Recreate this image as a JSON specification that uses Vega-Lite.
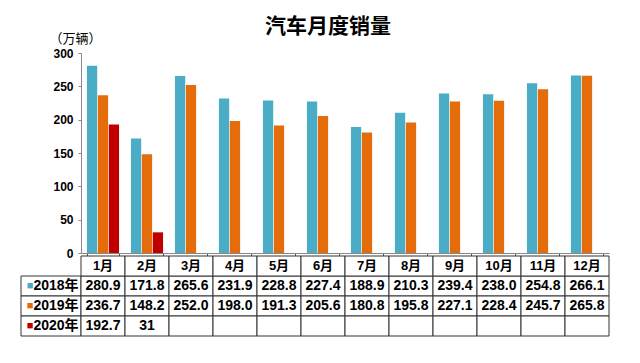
{
  "$schema": "https://vega.github.io/schema/vega-lite/v6.json",
  "background": "white",
  "padding": {"left": 20, "top": 16, "right": 5, "bottom": 5},
  "config": {
    "font": "Liberation Sans, Noto Sans CJK SC",
    "view": {"stroke": null},
    "text": {"color": "#000"}
  },
  "title": {"text": "汽车月度销量", "fontSize": 21, "fontWeight": "bold", "anchor": "middle", "dx": 13, "offset": -5, "color": "#000"},
  "datasets": {
    "sales": [
      {"month": "1月", "series": "2018年", "value": 280.9, "label": "280.9"},
      {"month": "2月", "series": "2018年", "value": 171.8, "label": "171.8"},
      {"month": "3月", "series": "2018年", "value": 265.6, "label": "265.6"},
      {"month": "4月", "series": "2018年", "value": 231.9, "label": "231.9"},
      {"month": "5月", "series": "2018年", "value": 228.8, "label": "228.8"},
      {"month": "6月", "series": "2018年", "value": 227.4, "label": "227.4"},
      {"month": "7月", "series": "2018年", "value": 188.9, "label": "188.9"},
      {"month": "8月", "series": "2018年", "value": 210.3, "label": "210.3"},
      {"month": "9月", "series": "2018年", "value": 239.4, "label": "239.4"},
      {"month": "10月", "series": "2018年", "value": 238.0, "label": "238.0"},
      {"month": "11月", "series": "2018年", "value": 254.8, "label": "254.8"},
      {"month": "12月", "series": "2018年", "value": 266.1, "label": "266.1"},
      {"month": "1月", "series": "2019年", "value": 236.7, "label": "236.7"},
      {"month": "2月", "series": "2019年", "value": 148.2, "label": "148.2"},
      {"month": "3月", "series": "2019年", "value": 252.0, "label": "252.0"},
      {"month": "4月", "series": "2019年", "value": 198.0, "label": "198.0"},
      {"month": "5月", "series": "2019年", "value": 191.3, "label": "191.3"},
      {"month": "6月", "series": "2019年", "value": 205.6, "label": "205.6"},
      {"month": "7月", "series": "2019年", "value": 180.8, "label": "180.8"},
      {"month": "8月", "series": "2019年", "value": 195.8, "label": "195.8"},
      {"month": "9月", "series": "2019年", "value": 227.1, "label": "227.1"},
      {"month": "10月", "series": "2019年", "value": 228.4, "label": "228.4"},
      {"month": "11月", "series": "2019年", "value": 245.7, "label": "245.7"},
      {"month": "12月", "series": "2019年", "value": 265.8, "label": "265.8"},
      {"month": "1月", "series": "2020年", "value": 192.7, "label": "192.7"},
      {"month": "2月", "series": "2020年", "value": 31, "label": "31"},
      {"month": "3月", "series": "2020年", "value": null, "label": ""},
      {"month": "4月", "series": "2020年", "value": null, "label": ""},
      {"month": "5月", "series": "2020年", "value": null, "label": ""},
      {"month": "6月", "series": "2020年", "value": null, "label": ""},
      {"month": "7月", "series": "2020年", "value": null, "label": ""},
      {"month": "8月", "series": "2020年", "value": null, "label": ""},
      {"month": "9月", "series": "2020年", "value": null, "label": ""},
      {"month": "10月", "series": "2020年", "value": null, "label": ""},
      {"month": "11月", "series": "2020年", "value": null, "label": ""},
      {"month": "12月", "series": "2020年", "value": null, "label": ""}
    ]
  },
  "columns": 2,
  "bounds": "flush",
  "spacing": {"row": 3, "column": 0},
  "resolve": {"scale": {"x": "independent", "y": "independent"}, "axis": {"x": "independent", "y": "independent"}},
  "concat": [
    {
      "width": 60,
      "height": 200,
      "data": {"values": [{}]},
      "mark": {"type": "text"},
      "encoding": {"text": {"value": ""}}
    },
    {
      "width": 528,
      "height": 200,
      "data": {"name": "sales"},
      "mark": {"type": "bar"},
      "encoding": {
        "x": {
          "field": "month", "type": "nominal",
          "sort": ["1月", "2月", "3月", "4月", "5月", "6月", "7月", "8月", "9月", "10月", "11月", "12月"],
          "scale": {"paddingInner": 0.27, "paddingOuter": 0.135},
          "axis": {"labels": false, "title": null, "tickBand": "extent", "tickSize": 4, "domainColor": "#888", "tickColor": "#555"}
        },
        "xOffset": {
          "field": "series", "type": "nominal",
          "sort": ["2018年", "2019年", "2020年"],
          "scale": {"paddingInner": 0.06}
        },
        "y": {
          "field": "value", "type": "quantitative",
          "scale": {"domain": [0, 300]},
          "axis": {
            "values": [0, 50, 100, 150, 200, 250, 300],
            "grid": false,
            "labelFontWeight": "bold", "labelFontSize": 12, "labelColor": "#000",
            "tickSize": 3, "labelPadding": 5, "domainColor": "#888", "tickColor": "#888",
            "title": "（万辆）", "titleAngle": 0, "titleFontWeight": "normal", "titleFontSize": 13,
            "titleAlign": "left", "titleBaseline": "bottom", "titleX": -32, "titleY": -8, "titleColor": "#000"
          }
        },
        "color": {
          "field": "series", "type": "nominal",
          "scale": {"domain": ["2018年", "2019年", "2020年"], "range": ["#4BACC6", "#E46C0A", "#C00000"]},
          "legend": null
        }
      }
    },
    {
      "width": 60,
      "height": 80,
      "data": {"name": "sales"},
      "transform": [{"filter": "datum.month === '1月'"}],
      "encoding": {
        "y": {
          "field": "series", "type": "nominal",
          "scale": {"domain": ["h", "2018年", "2019年", "2020年"], "paddingInner": 0, "paddingOuter": 0},
          "axis": null
        }
      },
      "layer": [
        {"mark": {"type": "rect", "fill": "white", "stroke": "#333", "strokeWidth": 1}},
        {
          "mark": {"type": "text", "text": "■", "dx": -21, "fontSize": 11},
          "encoding": {
            "color": {
              "field": "series", "type": "nominal",
              "scale": {"domain": ["2018年", "2019年", "2020年"], "range": ["#4BACC6", "#E46C0A", "#C00000"]},
              "legend": null
            }
          }
        },
        {
          "mark": {"type": "text", "dx": 5, "fontSize": 14, "fontWeight": "bold"},
          "encoding": {"text": {"field": "series"}}
        }
      ]
    },
    {
      "width": 528,
      "height": 80,
      "data": {"name": "sales"},
      "encoding": {
        "x": {
          "field": "month", "type": "nominal",
          "sort": ["1月", "2月", "3月", "4月", "5月", "6月", "7月", "8月", "9月", "10月", "11月", "12月"],
          "scale": {"paddingInner": 0, "paddingOuter": 0},
          "axis": null
        }
      },
      "layer": [
        {
          "mark": {"type": "rect", "fill": "white", "stroke": "#333", "strokeWidth": 1},
          "encoding": {
            "y": {
              "field": "series", "type": "nominal",
              "scale": {"domain": ["h", "2018年", "2019年", "2020年"], "paddingInner": 0, "paddingOuter": 0},
              "axis": null
            }
          }
        },
        {
          "mark": {"type": "text", "fontSize": 14, "fontWeight": "bold"},
          "encoding": {
            "y": {"field": "series", "type": "nominal"},
            "text": {"field": "label"}
          }
        },
        {
          "transform": [{"filter": "datum.series === '2018年'"}],
          "mark": {"type": "rect", "fill": "white", "stroke": "#333", "strokeWidth": 1},
          "encoding": {"y": {"datum": "h", "type": "nominal"}}
        },
        {
          "transform": [{"filter": "datum.series === '2018年'"}],
          "mark": {"type": "text", "fontSize": 13, "fontWeight": "bold"},
          "encoding": {
            "y": {"datum": "h", "type": "nominal"},
            "text": {"field": "month"}
          }
        }
      ]
    }
  ]
}
